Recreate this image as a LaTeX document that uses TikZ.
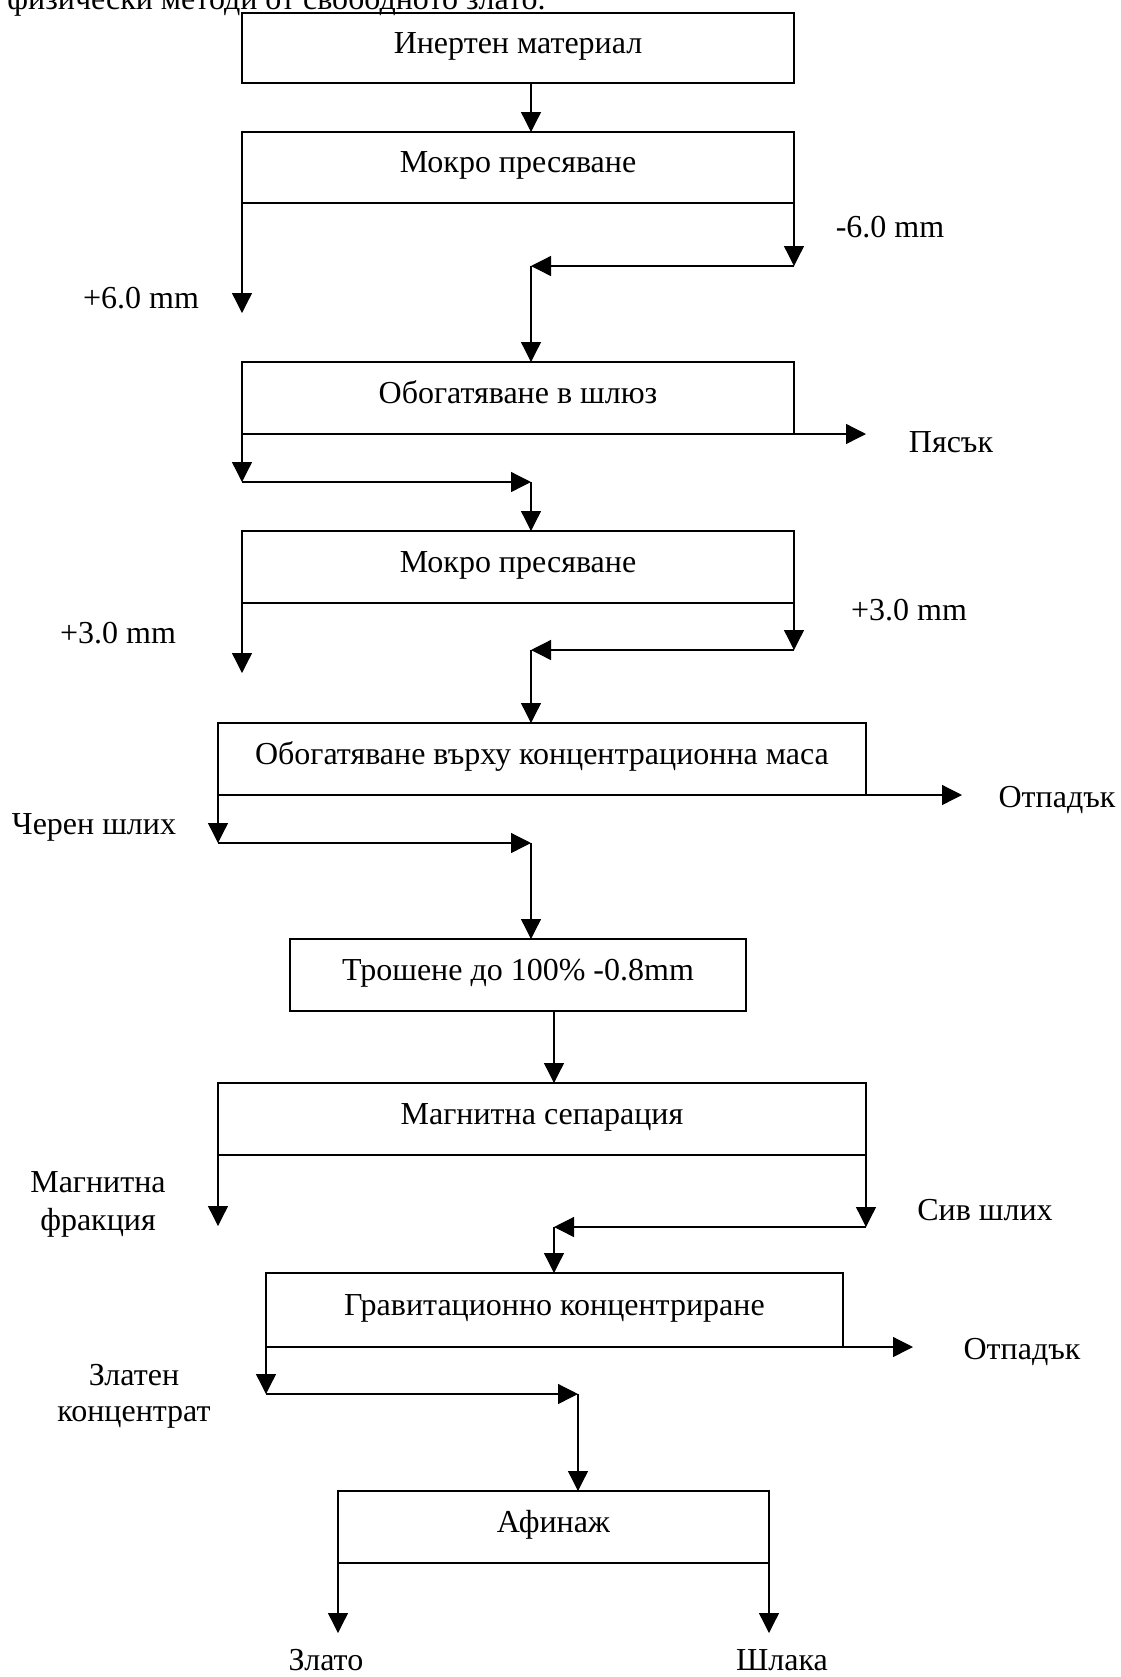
\documentclass[tikz,border=0pt]{standalone}
\usepackage{fontspec}
\setmainfont{Liberation Serif}
\usetikzlibrary{arrows.meta}
\tikzset{
  box/.style={draw, line width=0.65pt, rectangle, inner sep=0pt, outer sep=0pt,
    text height=11pt, text depth=6pt, align=center},
  arr/.style={line width=0.65pt, -{Triangle[length=10pt,width=10pt]}},
  lbl/.style={inner sep=0pt, align=center},
  every node/.style={font=\fontsize{16pt}{19pt}\selectfont}
}
\begin{document}
\begin{tikzpicture}[x=0.5pt,y=-0.5pt]
\useasboundingbox (0,0) rectangle (1120,1677);
\clip (0,0) rectangle (1120,1677);
\fill[white] (0,0) rectangle (1120,1677);

% cut-off caption line at the top
\node[lbl, anchor=base west] (cap) at (7,9) {физически методи от свободното злато.};

% column coordinates for the connectors
\coordinate (xA) at (531,0);
\coordinate (xB) at (554,0);
\coordinate (xC) at (578,0);

% process boxes
\node[box, minimum width=276pt, minimum height=35pt]   (b1) at (518,48)     {Инертен материал};
\node[box, minimum width=276pt, minimum height=35.5pt] (b2) at (518,167.5)  {Мокро пресяване};
\node[box, minimum width=276pt, minimum height=36pt]   (b3) at (518,398)    {Обогатяване в шлюз};
\node[box, minimum width=276pt, minimum height=36pt]   (b4) at (518,567)    {Мокро пресяване};
\node[box, minimum width=324pt, minimum height=36pt]   (b5) at (542,759)    {Обогатяване върху концентрационна маса};
\node[box, minimum width=228pt, minimum height=36pt]   (b6) at (518,975)    {Трошене до 100\% -0.8mm};
\node[box, minimum width=324pt, minimum height=36pt]   (b7) at (542,1119)   {Магнитна сепарация};
\node[box, minimum width=288.5pt, minimum height=37pt] (b8) at (554.5,1310) {Гравитационно концентриране};
\node[box, minimum width=215.5pt, minimum height=36pt] (b9) at (553.5,1527) {Афинаж};

% end points of the connectors
\coordinate (l1) at (242,313);
\coordinate (r1) at (794,266);
\coordinate (m1) at (531,266);
\coordinate (s1) at (866,434);
\coordinate (l2) at (242,482);
\coordinate (m2) at (531,482);
\coordinate (l3) at (242,673);
\coordinate (r3) at (794,650);
\coordinate (m3) at (531,650);
\coordinate (s2) at (962,795);
\coordinate (l4) at (218,843);
\coordinate (m4) at (531,843);
\coordinate (l5) at (218,1226);
\coordinate (r5) at (866,1227);
\coordinate (m5) at (554,1227);
\coordinate (s3) at (913,1347);
\coordinate (l6) at (266,1394);
\coordinate (m6) at (578,1394);
\coordinate (l7) at (338,1633);
\coordinate (r7) at (769,1633);

% connectors
\draw[arr] (b1.south -| xA) -- (b2.north -| xA);
\draw[arr] (b2.south west) -- (l1);
\draw[arr] (b2.south east) -- (r1);
\draw[arr] (r1) -- (m1);
\draw[arr] (m1) -- (b3.north -| xA);

\draw[arr] (b3.south east) -- (s1);
\draw[arr] (b3.south west) -- (l2);
\draw[arr] (l2) -- (m2);
\draw[arr] (m2) -- (b4.north -| xA);

\draw[arr] (b4.south west) -- (l3);
\draw[arr] (b4.south east) -- (r3);
\draw[arr] (r3) -- (m3);
\draw[arr] (m3) -- (b5.north -| xA);

\draw[arr] (b5.south east) -- (s2);
\draw[arr] (b5.south west) -- (l4);
\draw[arr] (l4) -- (m4);
\draw[arr] (m4) -- (b6.north -| xA);

\draw[arr] (b6.south -| xB) -- (b7.north -| xB);

\draw[arr] (b7.south west) -- (l5);
\draw[arr] (b7.south east) -- (r5);
\draw[arr] (r5) -- (m5);
\draw[arr] (m5) -- (b8.north -| xB);

\draw[arr] (b8.south east) -- (s3);
\draw[arr] (b8.south west) -- (l6);
\draw[arr] (l6) -- (m6);
\draw[arr] (m6) -- (b9.north -| xC);

\draw[arr] (b9.south west) -- (l7);
\draw[arr] (b9.south east) -- (r7);

% labels
\node[lbl] (t1)  at (890,227)  {-6.0 mm};
\node[lbl] (t2)  at (141,298)  {+6.0 mm};
\node[lbl] (t3)  at (951,442)  {Пясък};
\node[lbl] (t4)  at (909,610)  {+3.0 mm};
\node[lbl] (t5)  at (118,633)  {+3.0 mm};
\node[lbl] (t6)  at (1057,800) {Отпадък};
\node[lbl] (t7)  at (94,827)   {Черен шлих};
\node[lbl] (t8)  at (98,1204)  {Магнитна\\фракция};
\node[lbl] (t9)  at (985,1210) {Сив шлих};
\node[lbl] (t10) at (1022,1352){Отпадък};
\node[lbl, font=\fontsize{16pt}{18pt}\selectfont] (t11) at (134,1396) {Златен\\концентрат};
\node[lbl] (t12) at (326,1660) {Злато};
\node[lbl] (t13) at (782,1660) {Шлака};
\end{tikzpicture}
\end{document}
